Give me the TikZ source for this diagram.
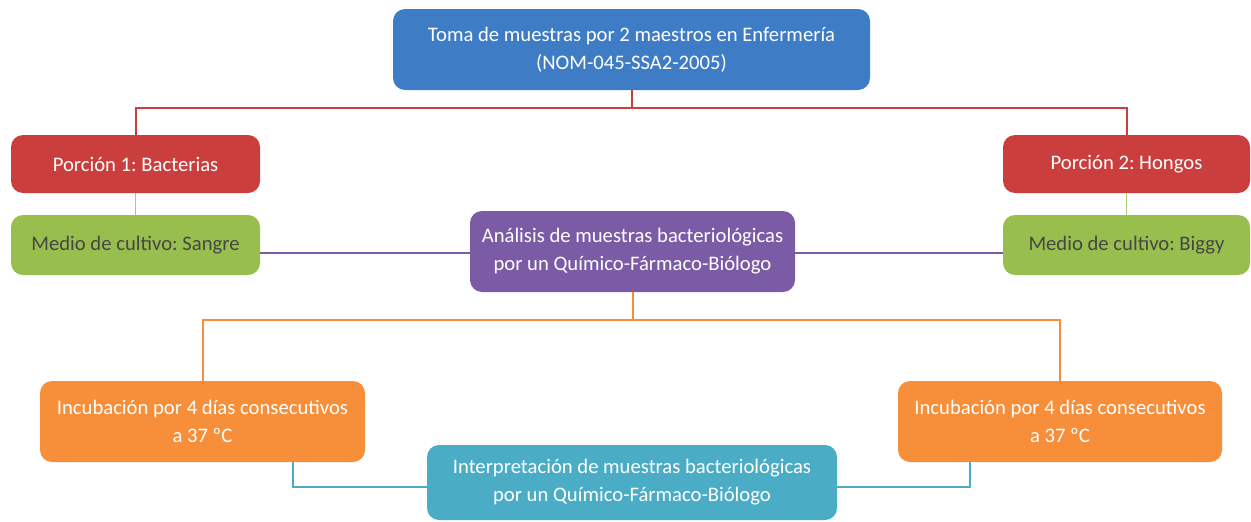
\documentclass[tikz,border=0pt]{standalone}
\usepackage{fontspec}
\setmainfont{Carlito}
\usepackage{xcolor}
\frenchspacing
\definecolor{cBlue}{RGB}{62,124,198}
\definecolor{cRed}{RGB}{203,62,62}
\definecolor{cGreen}{RGB}{152,190,77}
\definecolor{cPurple}{RGB}{124,91,166}
\definecolor{cOrange}{RGB}{247,143,58}
\definecolor{cTeal}{RGB}{75,172,198}
\definecolor{cText}{RGB}{70,70,70}
\tikzset{
  box/.style={rounded corners=9pt, inner sep=2pt, align=center, text=white,
    font=\fontsize{15.5}{21}\selectfont},
  link/.style={line width=1.5pt}
}

\begin{document}
\begin{tikzpicture}[x=0.75pt,y=0.75pt,yscale=-1,xscale=1]
\useasboundingbox (0,0) rectangle (1251,521);

%Shape: Rounded Rect [top]
\node [box, fill=cBlue, minimum width=357.75pt, minimum height=60.75pt] (toma) at (631.5,49.5)
  {Toma de muestras por 2 maestros en Enfermería\\(NOM-045-SSA2-2005)};
%Shape: Rounded Rect [porciones]
\node [box, fill=cRed, minimum width=186.75pt, minimum height=43.5pt] (porc1) at (135.5,164) {Porción 1: Bacterias};
\node [box, fill=cRed, minimum width=185.25pt, minimum height=43.5pt] (porc2) at (1126.5,164) {Porción 2: Hongos};
%Shape: Rounded Rect [medios]
\node [box, fill=cGreen, text=cText, minimum width=186.75pt, minimum height=45pt] (medio1) at (135.5,245) {Medio de cultivo: Sangre};
\node [box, fill=cGreen, text=cText, minimum width=185.25pt, minimum height=45pt] (medio2) at (1126.5,245) {Medio de cultivo: Biggy};
%Shape: Rounded Rect [analisis]
\node [box, fill=cPurple, minimum width=243.75pt, minimum height=60.75pt] (analisis) at (632.5,251.5)
  {Análisis de muestras bacteriológicas\\por un Químico-Fármaco-Biólogo};
%Shape: Rounded Rect [incubacion]
\node [box, fill=cOrange, minimum width=243.75pt, minimum height=60.75pt] (incub1) at (202.5,421.5)
  {Incubación por 4 días consecutivos\\a 37 ºC};
\node [box, fill=cOrange, minimum width=243pt, minimum height=60.75pt] (incub2) at (1060,421.5)
  {Incubación por 4 días consecutivos\\a 37 ºC};
%Shape: Rounded Rect [interpretacion]
\node [box, fill=cTeal, minimum width=307.5pt, minimum height=56.25pt] (interp) at (632,482.5)
  {Interpretación de muestras bacteriológicas\\por un Químico-Fármaco-Biólogo};

% Split points
\coordinate (rsplit) at (631.5,108);
\coordinate (osplit) at (632.5,320);
\coordinate (tleft) at (293,487);
\coordinate (tright) at (970,487);

%Straight Lines [red]
\draw [link, draw=cRed] (toma) -- (rsplit);
\draw [link, draw=cRed] (porc1.north) |- (rsplit) -| (porc2.north);
%Straight Lines [green]
\draw [link, draw=cGreen!80!white, line width=1pt] (porc1) -- (medio1);
\draw [link, draw=cGreen!80!white, line width=1pt] (porc2) -- (medio2);
%Straight Lines [purple]
\draw [link, draw=cPurple] (analisis.west |- 0,253) -- (medio1.east |- 0,253);
\draw [link, draw=cPurple] (analisis.east |- 0,253) -- (medio2.west |- 0,253);
%Straight Lines [orange]
\draw [link, draw=cOrange] (analisis) -- (osplit);
\draw [link, draw=cOrange] (incub1.north) |- (osplit) -| (incub2.north);
%Straight Lines [teal]
\draw [link, draw=cTeal] (tleft |- incub1.south) -- (tleft) -- (interp.west |- tleft);
\draw [link, draw=cTeal] (tright |- incub2.south) -- (tright) -- (interp.east |- tright);

\end{tikzpicture}
\end{document}
